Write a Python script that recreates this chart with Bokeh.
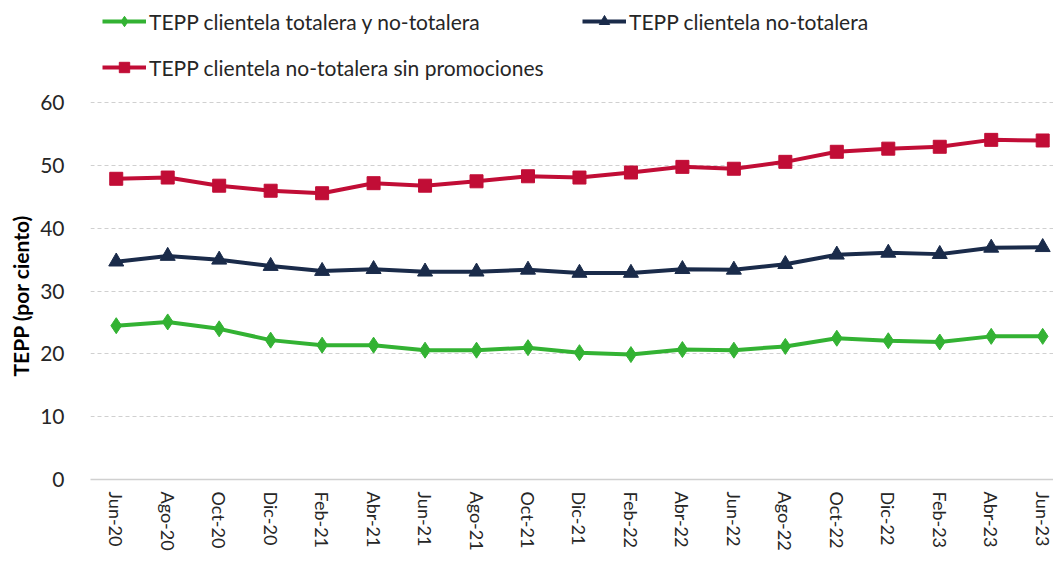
from bokeh.plotting import figure
from bokeh.models import (ColumnDataSource, Range1d, FixedTicker, Legend, LegendItem, Title)
from bokeh.embed import file_html
from bokeh.resources import INLINE

categories = ["Jun-20", "Ago-20", "Oct-20", "Dic-20", "Feb-21", "Abr-21", "Jun-21",
              "Ago-21", "Oct-21", "Dic-21", "Feb-22", "Abr-22", "Jun-22", "Ago-22",
              "Oct-22", "Dic-22", "Feb-23", "Abr-23", "Jun-23"]
total = [24.5, 25.1, 24.0, 22.2, 21.4, 21.4, 20.6, 20.6, 21.0, 20.2, 19.9, 20.7,
         20.6, 21.2, 22.5, 22.1, 21.9, 22.8, 22.8]
no_totalera = [34.7, 35.6, 35.0, 34.0, 33.2, 33.5, 33.1, 33.1, 33.4, 32.9, 32.9, 33.5,
               33.4, 34.3, 35.8, 36.1, 35.9, 36.9, 37.0]
sin_promo = [47.9, 48.1, 46.8, 46.0, 45.6, 47.2, 46.8, 47.5, 48.3, 48.1, 48.9, 49.8,
             49.5, 50.6, 52.2, 52.7, 53.0, 54.1, 54.0]
series_names = ["TEPP clientela totalera y no-totalera",
                "TEPP clientela no-totalera",
                "TEPP clientela no-totalera sin promociones"]
y_ticks = [0, 10, 20, 30, 40, 50, 60]
y_title = "TEPP (por ciento)"

FONT = "Lato"
GREEN = "#33b233"
NAVY = "#1a2b4a"
RED = "#c10d36"
TXT = "#262626"

xs = list(range(len(categories)))
src = ColumnDataSource(dict(x=xs, total=total, nt=no_totalera, sp=sin_promo))

# frame spans from the top of the figure down to the x axis; the value range
# above 60 holds the legend (no ticks/grid there)
p = figure(width=1053, height=553, output_backend="svg", toolbar_location=None,
           x_range=Range1d(-0.5, 18.21), y_range=Range1d(0, 76.3),
           min_border_left=80, min_border_right=0, min_border_top=0,
           min_border_bottom=74)
p.outline_line_color = None
p.background_fill_color = "white"
p.border_fill_color = "white"

# grid
p.xgrid.grid_line_color = None
p.ygrid.grid_line_color = "#d0d0d0"
p.ygrid.grid_line_dash = "4 3"
p.ygrid.grid_line_width = 1

# axes
p.xaxis.ticker = FixedTicker(ticks=xs)
p.xaxis.major_label_overrides = {i: c for i, c in enumerate(categories)}
p.xaxis.major_label_orientation = "vertical"
p.xaxis.major_tick_line_color = None
p.xaxis.minor_tick_line_color = None
p.xaxis.axis_line_color = "#d0d0d0"
p.xaxis.axis_line_width = 1.5
p.xaxis.major_label_text_font = FONT
p.xaxis.major_label_text_font_size = "18px"
p.xaxis.major_label_text_color = TXT
p.xaxis.major_label_standoff = 6

p.yaxis.ticker = FixedTicker(ticks=y_ticks)
p.yaxis.axis_line_color = None
p.yaxis.major_tick_line_color = None
p.yaxis.minor_tick_line_color = None
p.yaxis.major_label_text_font = FONT
p.yaxis.major_label_text_font_size = "21px"
p.yaxis.major_label_text_color = TXT
p.yaxis.major_label_standoff = 20

p.add_layout(Title(text=y_title, align="left", offset=103, standoff=10,
                   text_font=FONT, text_font_size="21px", text_font_style="bold",
                   text_color="#000000"), "left")

# series
l1 = p.line("x", "total", source=src, line_color=GREEN, line_width=4)
m1 = p.scatter("x", "total", source=src, marker="diamond", size=16,
               fill_color=GREEN, line_color=GREEN)
l2 = p.line("x", "nt", source=src, line_color=NAVY, line_width=4)
m2 = p.scatter("x", "nt", source=src, marker="triangle", size=15,
               fill_color=NAVY, line_color=NAVY)
l3 = p.line("x", "sp", source=src, line_color=RED, line_width=4)
m3 = p.scatter("x", "sp", source=src, marker="square", size=13,
               fill_color=RED, line_color=RED)

def make_legend(items, loc):
    return Legend(items=items, location=loc, orientation="vertical",
                  border_line_color=None, background_fill_alpha=0,
                  padding=0, margin=0, spacing=20,
                  glyph_width=44, glyph_height=26, label_standoff=3,
                  label_text_font=FONT, label_text_font_size="21px",
                  label_text_color=TXT, label_height=26)

leg1 = make_legend([LegendItem(label=series_names[0], renderers=[l1, m1]),
                    LegendItem(label=series_names[2], renderers=[l3, m3])], (12, 399))
leg2 = make_legend([LegendItem(label=series_names[1], renderers=[l2, m2])], (492, 445))
p.add_layout(leg1, "center")
p.add_layout(leg2, "center")

open("out.html", "w").write(file_html(p, INLINE))
